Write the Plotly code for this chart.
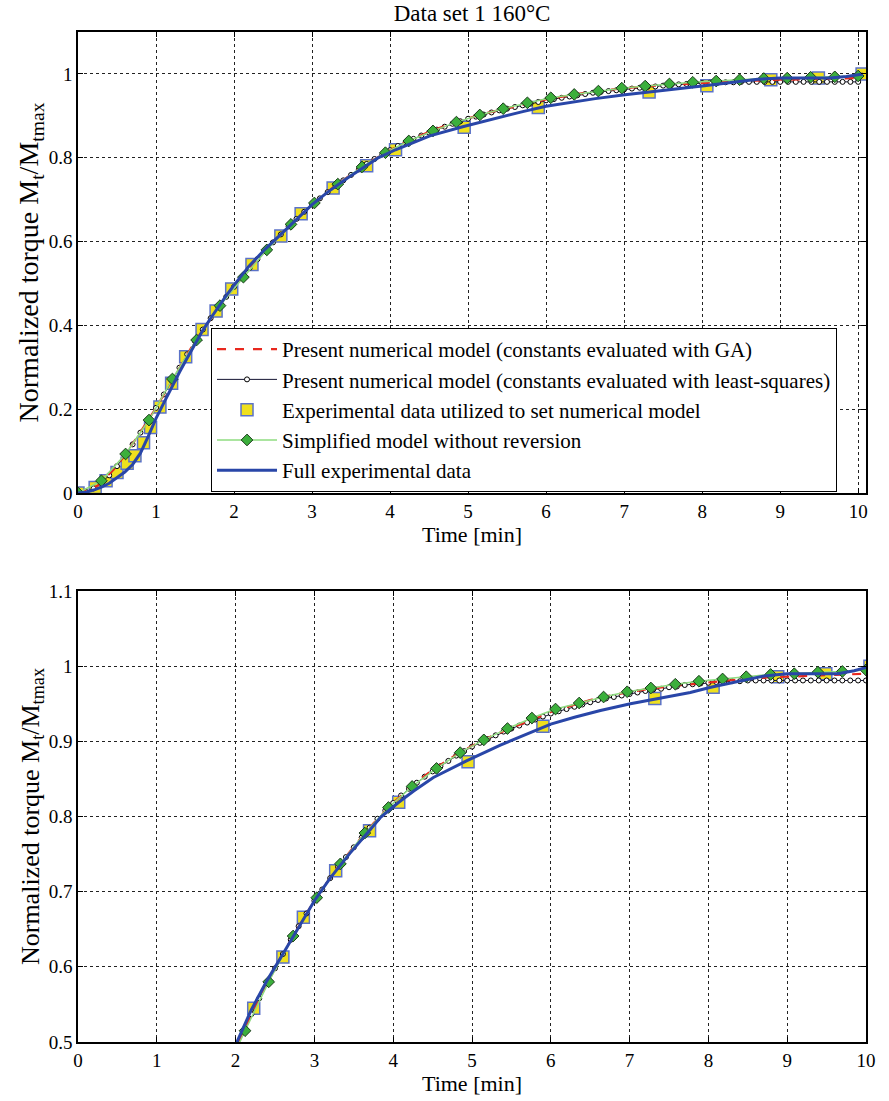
import plotly.graph_objects as go

# ---------------- data ----------------
# GA model (red dashed)
t_ga = [0, 0.25, 0.5, 0.75, 1.0, 1.25, 1.5, 1.75, 2.0, 2.25, 2.5, 2.75, 3.0, 3.25, 3.5, 3.75,
        4.0, 4.25, 4.5, 4.75, 5.0, 5.25, 5.5, 5.75, 6.0, 6.25, 6.5, 6.75, 7.0, 7.25, 7.5, 7.75,
        8.0, 8.25, 8.5, 8.75, 9.0, 9.25, 9.5, 9.75, 10.0]
v_ga = [0, 0.017, 0.064, 0.131, 0.203, 0.282, 0.362, 0.428, 0.491, 0.547, 0.598, 0.645, 0.688,
        0.726, 0.760, 0.791, 0.818, 0.842, 0.862, 0.879, 0.894, 0.907, 0.918, 0.928, 0.939,
        0.947, 0.955, 0.961, 0.966, 0.970, 0.973, 0.976, 0.979, 0.981, 0.983, 0.985, 0.986,
        0.987, 0.988, 0.989, 0.990]

# least-squares model (black line, white circles)
t_ls = [0.0, 0.1, 0.2, 0.3, 0.4, 0.5, 0.6, 0.7, 0.8, 0.9, 1.0, 1.1, 1.2, 1.3, 1.4, 1.5, 1.6, 1.7,
        1.8, 1.9, 2.0, 2.1, 2.2, 2.3, 2.4, 2.5, 2.6, 2.7, 2.8, 2.9, 3.0, 3.1, 3.2, 3.3, 3.4, 3.5,
        3.6, 3.7, 3.8, 3.9, 4.0, 4.1, 4.2, 4.3, 4.4, 4.5, 4.6, 4.7, 4.8, 4.9, 5.0, 5.1, 5.2, 5.3,
        5.4, 5.5, 5.6, 5.7, 5.8, 5.9, 6.0, 6.1, 6.2, 6.3, 6.4, 6.5, 6.6, 6.7, 6.8, 6.9, 7.0, 7.1,
        7.2, 7.3, 7.4, 7.5, 7.6, 7.7, 7.8, 7.9, 8.0, 8.1, 8.2, 8.3, 8.4, 8.5, 8.6, 8.7, 8.8, 8.9,
        9.0, 9.1, 9.2, 9.3, 9.4, 9.5, 9.6, 9.7, 9.8, 9.9, 10.0]
v_ls = [0.000, 0.003, 0.011, 0.024, 0.042, 0.064, 0.089, 0.116, 0.144, 0.173, 0.203, 0.235,
        0.267, 0.299, 0.331, 0.362, 0.390, 0.417, 0.443, 0.468, 0.492, 0.515, 0.537, 0.558,
        0.578, 0.598, 0.617, 0.636, 0.654, 0.671, 0.688, 0.703, 0.718, 0.733, 0.746, 0.759,
        0.772, 0.785, 0.797, 0.808, 0.818, 0.828, 0.837, 0.845, 0.853, 0.860, 0.867, 0.874,
        0.881, 0.887, 0.893, 0.898, 0.903, 0.908, 0.913, 0.917, 0.921, 0.925, 0.929, 0.933,
        0.937, 0.940, 0.943, 0.946, 0.949, 0.952, 0.955, 0.957, 0.959, 0.961, 0.963, 0.965,
        0.967, 0.969, 0.970, 0.972, 0.973, 0.975, 0.976, 0.977, 0.978, 0.979, 0.979, 0.980,
        0.980, 0.981, 0.981, 0.981, 0.981, 0.981, 0.981, 0.981, 0.981, 0.981, 0.981, 0.981,
        0.981, 0.981, 0.981, 0.981, 0.981]

# experimental points used to set the model (yellow squares)
t_sq = [0, 0.22, 0.36, 0.50, 0.63, 0.73, 0.84, 0.93, 1.05, 1.20, 1.38, 1.59, 1.77, 1.97, 2.23,
        2.60, 2.86, 3.27, 3.70, 4.07, 4.95, 5.90, 7.32, 8.06, 8.88, 9.49, 10.05]
v_sq = [0, 0.013, 0.029, 0.049, 0.071, 0.089, 0.120, 0.156, 0.205, 0.262, 0.325, 0.390, 0.434,
        0.487, 0.545, 0.613, 0.666, 0.728, 0.781, 0.819, 0.873, 0.920, 0.957, 0.972, 0.986,
        0.990, 1.000]

# simplified model without reversion (green diamonds)
t_sm = [0, 0.30, 0.61, 0.91, 1.21, 1.52, 1.82, 2.12, 2.42, 2.73, 3.03, 3.33, 3.64, 3.94, 4.24,
        4.55, 4.85, 5.15, 5.45, 5.76, 6.06, 6.36, 6.67, 6.97, 7.27, 7.58, 7.88, 8.18, 8.48,
        8.79, 9.09, 9.39, 9.70, 10.0]
v_sm = [0, 0.029, 0.093, 0.174, 0.272, 0.365, 0.447, 0.515, 0.580, 0.641, 0.692, 0.737, 0.778,
        0.812, 0.840, 0.864, 0.885, 0.902, 0.917, 0.931, 0.943, 0.951, 0.959, 0.966, 0.971,
        0.976, 0.980, 0.983, 0.986, 0.989, 0.990, 0.992, 0.993, 0.995]

# full experimental data (blue)
t_ex = [0, 0.1, 0.2, 0.3, 0.4, 0.5, 0.6, 0.7, 0.8, 0.9, 1.0, 1.1, 1.2, 1.3, 1.4, 1.5, 1.6, 1.7,
        1.8, 1.9, 2.0, 2.2, 2.4, 2.6, 2.8, 3.0, 3.2, 3.45, 3.68, 3.84, 4.07, 4.26, 4.51, 4.93,
        5.36, 5.7, 6.0, 6.3, 6.63, 7.01, 7.4, 7.77, 8.03, 8.4, 8.71, 9.0, 9.3, 9.64, 9.85,
        10.0, 10.06]
v_ex = [0, 0.002, 0.007, 0.014, 0.023, 0.036, 0.050, 0.068, 0.095, 0.135, 0.178, 0.215, 0.252,
        0.288, 0.322, 0.356, 0.388, 0.417, 0.445, 0.471, 0.496, 0.543, 0.582, 0.617, 0.652,
        0.688, 0.718, 0.751, 0.779, 0.799, 0.819, 0.834, 0.852, 0.874, 0.895, 0.910, 0.923,
        0.932, 0.941, 0.950, 0.958, 0.965, 0.972, 0.980, 0.987, 0.990, 0.990, 0.990, 0.994,
        0.998, 1.000]

x_ticks = [0, 1, 2, 3, 4, 5, 6, 7, 8, 9, 10]
y1_ticks = [0, 0.2, 0.4, 0.6, 0.8, 1]
y2_ticks = [0.5, 0.6, 0.7, 0.8, 0.9, 1, 1.1]

labels = ["Present numerical model (constants evaluated with GA)",
          "Present numerical model (constants evaluated with least-squares)",
          "Experimental data utilized to set numerical model",
          "Simplified model without reversion",
          "Full experimental data"]

# ---------------- figure ----------------
SERIF = "Liberation Serif, Times New Roman, serif"
fig = go.Figure()

for xa, ya, show in (("x", "y", True), ("x2", "y2", False)):
    fig.add_trace(go.Scatter(x=t_sq, y=v_sq, mode="markers", name=labels[2], legendrank=3,
                             xaxis=xa, yaxis=ya, showlegend=show,
                             marker=dict(symbol="square", size=12, color="#efe01e",
                                         line=dict(color="#5b72c8", width=1.5))))
    fig.add_trace(go.Scatter(x=t_ls, y=v_ls, mode="lines+markers", name=labels[1], legendrank=2,
                             xaxis=xa, yaxis=ya, showlegend=show,
                             line=dict(color="#141432", width=1),
                             marker=dict(symbol="circle", size=5, color="white",
                                         line=dict(color="black", width=1))))
    fig.add_trace(go.Scatter(x=t_ga, y=v_ga, mode="lines", name=labels[0], legendrank=1,
                             xaxis=xa, yaxis=ya, showlegend=show,
                             line=dict(color="#e8281e", width=2.2, dash="dash")))
    fig.add_trace(go.Scatter(x=t_sm, y=v_sm, mode="lines+markers", name=labels[3], legendrank=4,
                             xaxis=xa, yaxis=ya, showlegend=show,
                             line=dict(color="#8fdc80", width=1.5),
                             marker=dict(symbol="diamond", size=9, color="#3caf3c",
                                         line=dict(color="#1a3a1a", width=1))))
    fig.add_trace(go.Scatter(x=t_ex, y=v_ex, mode="lines", name=labels[4], legendrank=5,
                             xaxis=xa, yaxis=ya, showlegend=show,
                             line=dict(color="#2946a8", width=3)))

axis_common = dict(showline=True, mirror="ticks", linecolor="black", linewidth=1.5,
                   ticks="inside", ticklen=5, tickcolor="black",
                   showgrid=True, gridcolor="#222222", gridwidth=1, griddash="3px,3px",
                   zeroline=False, tickfont=dict(family=SERIF, size=19, color="black"))

fig.update_layout(
    width=889, height=1101,
    margin=dict(l=78, r=23, t=32, b=59, autoexpand=False),
    paper_bgcolor="white", plot_bgcolor="white",
    font=dict(family=SERIF, color="black"),
    title=dict(text="Data set 1 160°C", x=0.531, xanchor="center", y=0.988, yanchor="middle",
               font=dict(family=SERIF, size=23, color="black")),
    xaxis=dict(domain=[0, 1], range=[0, 10.1], tickvals=x_ticks, anchor="y",
               title=dict(text="Time [min]", font=dict(family=SERIF, size=22), standoff=0),
               **axis_common),
    yaxis=dict(domain=[0.5436, 1], range=[0, 1.1], tickvals=y1_ticks, anchor="x",
               title=dict(text="Normalized torque M<sub>t</sub>/M<sub>tmax</sub>",
                          font=dict(family=SERIF, size=28), standoff=2),
               **axis_common),
    xaxis2=dict(domain=[0, 1], range=[0, 10], tickvals=x_ticks, anchor="y2",
                title=dict(text="Time [min]", font=dict(family=SERIF, size=22), standoff=4),
                **axis_common),
    yaxis2=dict(domain=[0, 0.4465], range=[0.5, 1.1], tickvals=y2_ticks, anchor="x2",
                title=dict(text="Normalized torque M<sub>t</sub>/M<sub>tmax</sub>",
                           font=dict(family=SERIF, size=26), standoff=2),
                **axis_common),
    legend=dict(x=0.1688, y=0.707, xanchor="left", yanchor="top",
                bgcolor="white", bordercolor="black", borderwidth=1,
                font=dict(family=SERIF, size=21, color="black"),
                itemwidth=60, tracegroupgap=0),
    showlegend=True,
)

fig.write_html("out.html")
